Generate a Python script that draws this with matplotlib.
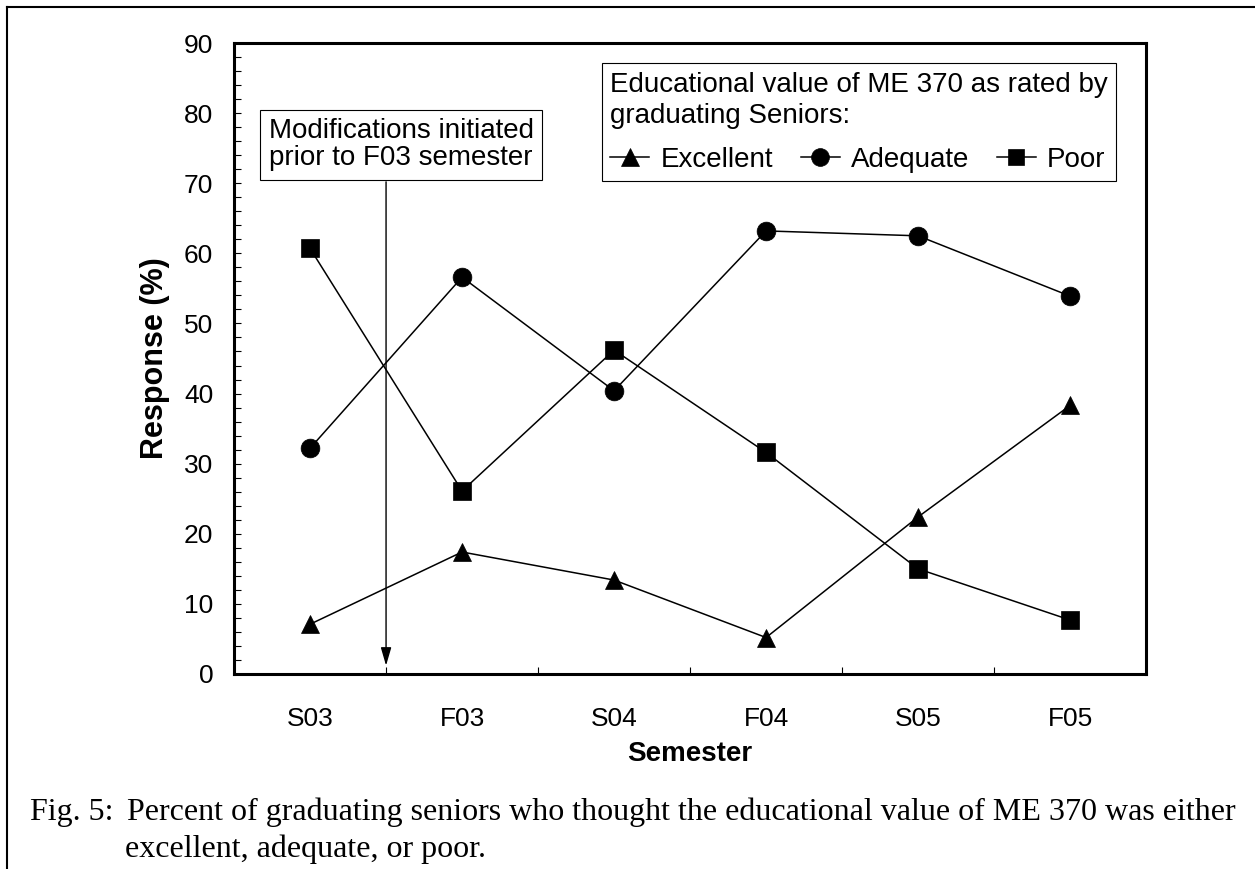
import matplotlib
matplotlib.use("Agg")
import matplotlib.pyplot as plt
from matplotlib.lines import Line2D
from matplotlib.ticker import MultipleLocator

# data
semesters = ["S03", "F03", "S04", "F04", "S05", "F05"]
excellent = [7.1, 17.4, 13.4, 5.2, 22.4, 38.3]
adequate = [32.2, 56.6, 40.4, 63.2, 62.5, 53.9]
poor = [60.7, 26.1, 46.2, 31.6, 15.0, 7.7]

plt.rcParams['font.family'] = ['Liberation Sans', 'DejaVu Sans']

fig = plt.figure(figsize=(12.55, 8.69), dpi=100)
ax = fig.add_axes([0.1865, 0.2244, 0.7267, 0.7261])

x = list(range(len(semesters)))
style = dict(color='black', lw=1.1, mec='black', mfc='black', mew=0.5)
h1, = ax.plot(x, excellent, marker='^', ms=13.5, **style)
h2, = ax.plot(x, adequate, marker='o', ms=13.5, **style)
h3, = ax.plot(x, poor, marker='s', ms=12.5, **style)

ax.set_xlim(-0.5, 5.5)
ax.set_ylim(0, 90)

# axis ticks
ax.set_xticks(x)
ax.set_xticklabels(semesters)
ax.set_xticks([i + 0.5 for i in x[:-1]], minor=True)
ax.tick_params(axis='x', which='major', length=0, pad=24, labelsize=19)
ax.tick_params(axis='x', which='minor', direction='in', length=5, width=0.8)
ax.set_yticks(range(0, 91, 10))
ax.yaxis.set_minor_locator(MultipleLocator(2))
ax.tick_params(axis='y', which='both', direction='in', length=5, width=0.8, pad=15, labelsize=19)

for s in ax.spines.values():
    s.set_linewidth(2.2)

ax.set_xlabel('Semester', fontsize=20, fontweight='bold', labelpad=7)
ax.set_ylabel('Response (%)', fontsize=22, fontweight='bold', labelpad=10)

# annotation box and arrow
ax.text(0.599, 75.5, 'Modifications initiated\nprior to F03 semester', ha='center', va='center',
        fontsize=20, linespacing=1.05,
        bbox=dict(boxstyle='square,pad=0.3', fc='white', ec='black', lw=0.8))
ax.annotate('', xy=(0.5, 1.2), xytext=(0.5, 70.2),
            arrowprops=dict(arrowstyle='-|>,head_length=1.1,head_width=0.32', color='black',
                            lw=1.0, shrinkA=0, shrinkB=0))

leg = ax.legend([h1, h2, h3], ['Excellent', 'Adequate', 'Poor'],
                title='Educational value of ME 370 as rated by\ngraduating Seniors:',
                ncol=3, loc='upper left', bbox_to_anchor=(0.4035, 0.968), borderaxespad=0,
                fancybox=False, edgecolor='black', framealpha=1, handlelength=1.4,
                handletextpad=0.4, columnspacing=1.0, labelspacing=0.65, alignment='left',
                title_fontsize=20, fontsize=20, borderpad=0.3, markerscale=0.95)
leg.get_frame().set_linewidth(0.8)
leg.get_title().set_linespacing(1.25)

# caption
cap = dict(family=['Liberation Serif', 'DejaVu Serif'], fontsize=23, va='baseline')
fig.text(30 / 1255, 1 - 820 / 869, 'Fig. 5:', **cap)
fig.text(127 / 1255, 1 - 820 / 869,
         'Percent of graduating seniors who thought the educational value of ME 370 was either', **cap)
fig.text(125 / 1255, 1 - 857 / 869, 'excellent, adequate, or poor.', **cap)

# outer frame lines (top and left)
fig.add_artist(Line2D([7 / 1255, 1], [1 - 7 / 869, 1 - 7 / 869], color='black', lw=1.5,
                      transform=fig.transFigure))
fig.add_artist(Line2D([7 / 1255, 7 / 1255], [0, 1 - 7 / 869], color='black', lw=1.5,
                      transform=fig.transFigure))

fig.savefig('out.png', dpi=100)
